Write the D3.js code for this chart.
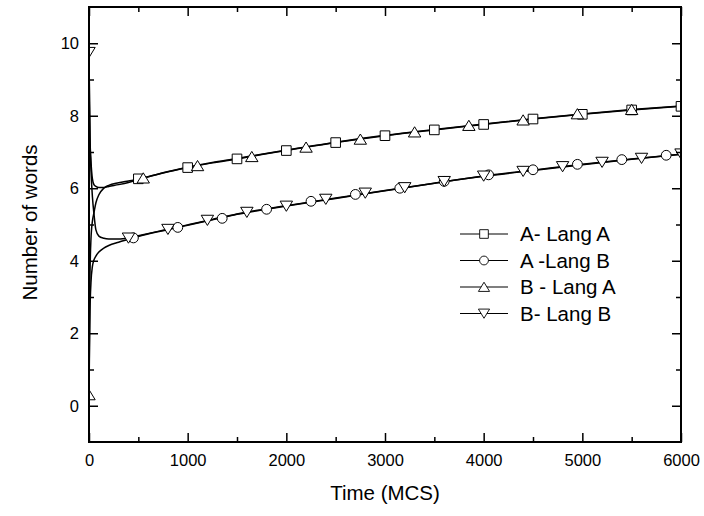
<!DOCTYPE html>
<html>
<head>
<meta charset="utf-8">
<script src="https://cdn.jsdelivr.net/npm/d3@7"></script>
<style>
  html, body { margin: 0; padding: 0; background: #fff; }
  svg { display: block; }
  text { font-family: "Liberation Sans", Arial, Helvetica, sans-serif; fill: #000; }
</style>
</head>
<body>
<svg id="chart" width="704" height="516"></svg>
<script>
// ---------- data ----------
const seriesNames = ["A- Lang A", "A -Lang B", "B - Lang A", "B- Lang B"];

const lineTime = [0, 5, 10, 20, 35, 50, 70, 100, 150, 200, 300, 400, 500, 750, 1000, 1250, 1500, 1750, 2000, 2500, 3000, 3500, 4000, 4500, 5000, 5500, 6000];
const lineALangA = [9.75, 8.3, 7.4, 6.75, 6.25, 6.1, 6.05, 6.02, 6.02, 6.05, 6.1, 6.16, 6.24, 6.42, 6.57, 6.70, 6.81, 6.93, 7.04, 7.26, 7.45, 7.61, 7.76, 7.91, 8.04, 8.16, 8.26];
const lineALangB = [0.3, 1.6, 2.6, 3.4, 3.85, 4.02, 4.13, 4.24, 4.35, 4.42, 4.51, 4.59, 4.67, 4.83, 4.98, 5.13, 5.28, 5.40, 5.51, 5.72, 5.93, 6.14, 6.34, 6.50, 6.66, 6.81, 6.94];
const lineBLangA = [0.3, 2.2, 3.6, 4.6, 5.1, 5.32, 5.6, 5.82, 6.0, 6.08, 6.15, 6.2, 6.25, 6.43, 6.58, 6.71, 6.82, 6.94, 7.05, 7.27, 7.46, 7.62, 7.77, 7.92, 8.05, 8.17, 8.27];
const lineBLangB = [9.75, 8.4, 7.4, 6.5, 5.75, 5.3, 4.85, 4.68, 4.62, 4.6, 4.6, 4.63, 4.69, 4.84, 4.99, 5.14, 5.29, 5.41, 5.52, 5.73, 5.94, 6.14, 6.33, 6.49, 6.65, 6.80, 6.94];

const markTimeALangA = [500, 1000, 1500, 2000, 2500, 3000, 3500, 4000, 4500, 5000, 5500, 6000];
const markValALangA  = [6.26, 6.57, 6.81, 7.04, 7.26, 7.45, 7.61, 7.76, 7.91, 8.04, 8.16, 8.26];
const markTimeALangB = [450, 900, 1350, 1800, 2250, 2700, 3150, 3600, 4050, 4500, 4950, 5400, 5850];
const markValALangB  = [4.63, 4.92, 5.17, 5.42, 5.64, 5.83, 6.0, 6.19, 6.37, 6.51, 6.66, 6.79, 6.91];
const markTimeBLangA = [0, 550, 1100, 1650, 2200, 2750, 3300, 3850, 4400, 4950, 5500];
const markValBLangA  = [0.3, 6.28, 6.62, 6.87, 7.13, 7.35, 7.55, 7.73, 7.88, 8.05, 8.17];
const markTimeBLangB = [0, 400, 800, 1200, 1600, 2000, 2400, 2800, 3200, 3600, 4000, 4400, 4800, 5200, 5600, 6000];
const markValBLangB  = [9.75, 4.63, 4.87, 5.12, 5.34, 5.51, 5.7, 5.87, 6.02, 6.19, 6.34, 6.47, 6.6, 6.72, 6.83, 6.95];

const xMajorTicks = [0, 1000, 2000, 3000, 4000, 5000, 6000];
const xMinorTicks = [500, 1500, 2500, 3500, 4500, 5500];
const yMajorTicks = [0, 2, 4, 6, 8, 10];
const yMinorTicks = [1, 3, 5, 7, 9];

const xTitle = "Time (MCS)";
const yTitle = "Number of words";

// ---------- layout ----------
const svg = d3.select("#chart");
const L = 89, R = 681, T = 7, B = 442;
const x = d3.scaleLinear().domain([0, 6000]).range([L, R]);
const y = d3.scaleLinear().domain([-1, 11]).range([B, T]);

const symbols = {
  square: "M-4.8,-4.8H4.8V4.8H-4.8Z",
  circle: "M4.9,0A4.9,4.9 0 1 1 -4.9,0A4.9,4.9 0 1 1 4.9,0Z",
  up: "M0,-5.3L6.2,4.9L-6.2,4.9Z",
  down: "M0,5.3L6.2,-4.9L-6.2,-4.9Z"
};

const series = [
  { name: seriesNames[0], vals: lineALangA, mt: markTimeALangA, mv: markValALangA, sym: "square" },
  { name: seriesNames[1], vals: lineALangB, mt: markTimeALangB, mv: markValALangB, sym: "circle" },
  { name: seriesNames[2], vals: lineBLangA, mt: markTimeBLangA, mv: markValBLangA, sym: "up" },
  { name: seriesNames[3], vals: lineBLangB, mt: markTimeBLangB, mv: markValBLangB, sym: "down" }
];

// clip
svg.append("defs").append("clipPath").attr("id", "plotclip")
  .append("rect").attr("x", L).attr("y", T).attr("width", R - L).attr("height", B - T);

const plot = svg.append("g").attr("clip-path", "url(#plotclip)");

const line = d3.line()
  .x((d, i) => x(lineTime[i]))
  .y(d => y(d))
  .curve(d3.curveMonotoneX);

series.forEach(s => {
  plot.append("path")
    .attr("d", line(s.vals))
    .attr("fill", "none")
    .attr("stroke", "#000")
    .attr("stroke-width", 1.5);
});

series.forEach(s => {
  plot.append("g").selectAll("path")
    .data(s.mt.map((t, i) => [t, s.mv[i]]))
    .join("path")
    .attr("d", symbols[s.sym])
    .attr("transform", d => `translate(${x(d[0])},${y(d[1])})`)
    .attr("fill", "#fff")
    .attr("stroke", "#000")
    .attr("stroke-width", 1);
});

// ---------- axes ----------
const tickFont = "16.5px";
function styleAxis(g) {
  g.select(".domain").remove();
  g.selectAll(".tick line").attr("stroke", "#000").attr("stroke-width", 1.5);
  g.selectAll("text").style("font-size", tickFont).style("font-family", '"Liberation Sans", Arial, sans-serif').attr("fill", "#000");
}

svg.append("g").attr("transform", `translate(0,${B})`)
  .call(d3.axisBottom(x).tickValues(xMajorTicks).tickSize(-9).tickPadding(12).tickFormat(d3.format("d")))
  .call(styleAxis);
svg.append("g").attr("transform", `translate(0,${B})`)
  .call(d3.axisBottom(x).tickValues(xMinorTicks).tickSize(-5).tickFormat(""))
  .call(styleAxis);
svg.append("g").attr("transform", `translate(0,${T})`)
  .call(d3.axisTop(x).tickValues(xMajorTicks).tickSize(-9).tickFormat(""))
  .call(styleAxis);
svg.append("g").attr("transform", `translate(0,${T})`)
  .call(d3.axisTop(x).tickValues(xMinorTicks).tickSize(-5).tickFormat(""))
  .call(styleAxis);

svg.append("g").attr("transform", `translate(${L},0)`)
  .call(d3.axisLeft(y).tickValues(yMajorTicks).tickSize(-9).tickPadding(10).tickFormat(d3.format("d")))
  .call(styleAxis);
svg.append("g").attr("transform", `translate(${L},0)`)
  .call(d3.axisLeft(y).tickValues(yMinorTicks).tickSize(-5).tickFormat(""))
  .call(styleAxis);
svg.append("g").attr("transform", `translate(${R},0)`)
  .call(d3.axisRight(y).tickValues(yMajorTicks).tickSize(-9).tickFormat(""))
  .call(styleAxis);
svg.append("g").attr("transform", `translate(${R},0)`)
  .call(d3.axisRight(y).tickValues(yMinorTicks).tickSize(-5).tickFormat(""))
  .call(styleAxis);

// frame
svg.append("rect")
  .attr("x", L).attr("y", T).attr("width", R - L).attr("height", B - T)
  .attr("fill", "none").attr("stroke", "#000").attr("stroke-width", 2);

// titles
svg.append("text")
  .attr("x", (L + R) / 2).attr("y", 500)
  .attr("text-anchor", "middle")
  .style("font-size", "20.5px")
  .text(xTitle);
svg.append("text")
  .attr("transform", `translate(37,${(T + B) / 2 - 2}) rotate(-90)`)
  .attr("text-anchor", "middle")
  .style("font-size", "20.5px")
  .text(yTitle);

// legend
const legend = svg.append("g");
const legY0 = 234, legDy = 26.5;
series.forEach((s, i) => {
  const g = legend.append("g").attr("transform", `translate(0,${legY0 + i * legDy})`);
  g.append("line").attr("x1", 460).attr("x2", 508).attr("y1", 0).attr("y2", 0)
    .attr("stroke", "#000").attr("stroke-width", 1.2);
  g.append("path").attr("d", symbols[s.sym]).attr("transform", "translate(484,0) scale(0.9)")
    .attr("fill", "#fff").attr("stroke", "#000").attr("stroke-width", 1);
  g.append("text").attr("x", 520).attr("y", 0).attr("dy", "0.36em")
    .style("font-size", "20.5px").text(s.name);
});
</script>
</body>
</html>
